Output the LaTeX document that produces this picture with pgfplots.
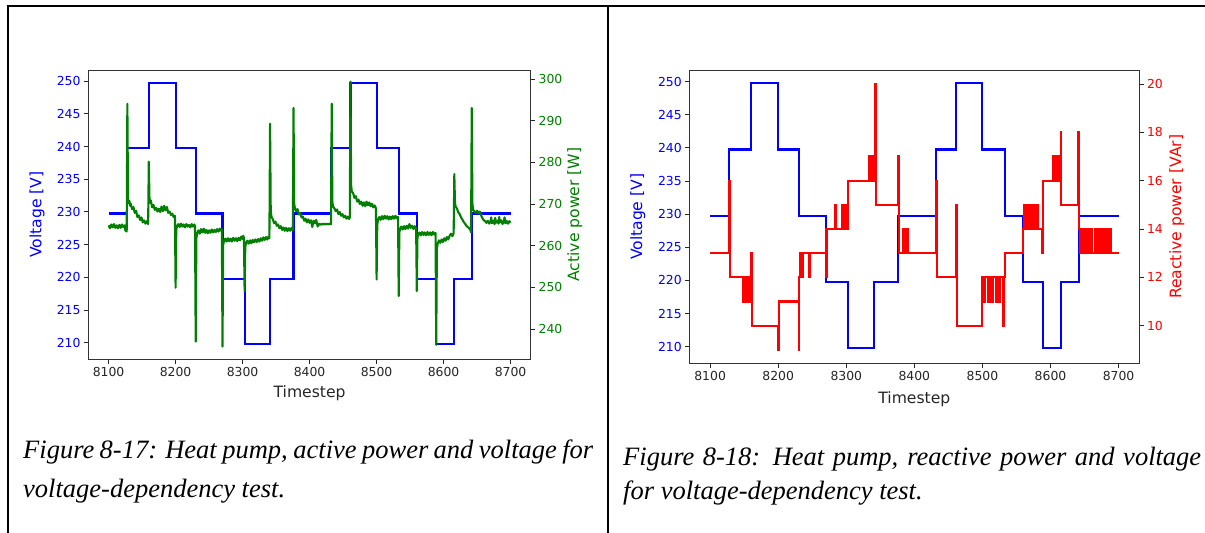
\documentclass[border=0pt]{standalone}
\usepackage{pgfplots}
\pgfplotsset{compat=1.18}
\usepackage{fontspec}
\setmainfont{Liberation Serif}
\newfontfamily\dejavu{DejaVu Sans}
\definecolor{mplblue}{rgb}{0,0,1}
\definecolor{mplgreen}{rgb}{0,0.5,0}
\definecolor{mplred}{rgb}{1,0,0}
\newcommand\tickfont{\dejavu\fontsize{12.4bp}{14bp}\selectfont}
\newcommand\labfont{\dejavu\fontsize{15.6bp}{18bp}\selectfont}
\newcommand\capfont{\fontsize{26.5bp}{30bp}\selectfont\itshape}
\pgfplotsset{
  mpl/.style={
    scale only axis,
    xmin=8070, xmax=8730,
    tick align=outside,
    major tick length=4.5bp,
    tick style={black!85, line width=0.9bp},
    axis line style={black!80, line width=1bp},
    tick label style={font=\tickfont},
    /pgf/number format/assume math mode=true,
    /pgf/number format/set thousands separator={},
    scaled ticks=false,
    label style={font=\labfont},
  }
}
\begin{document}
\begin{tikzpicture}
\useasboundingbox (0bp,0bp) rectangle (1205bp,-533bp);
\fill[white] (0bp,0bp) rectangle (1205bp,-533bp);
\draw[line width=2bp] (6.7bp,-6.3bp) -- (1205bp,-6.3bp);
\draw[line width=2bp] (7.7bp,-5.3bp) -- (7.7bp,-533bp);
\draw[line width=2bp] (608bp,-5.3bp) -- (608bp,-533bp);

% ---------------- left panel ----------------
\begin{axis}[mpl, at={(88.5bp,-359bp)}, anchor=south west,
  width=442.2bp, height=289bp,
  ymin=207.5, ymax=251.7,
  xtick={8100,8200,...,8700}, ytick={210,215,...,250},
  tick pos=left,
  xticklabel style={text=black!85},
  yticklabel style={text=mplblue},
  xlabel={Timestep}, ylabel={Voltage [V]},
  xlabel style={at={(axis description cs:0.5,-0.1194)}, anchor=center, text=black!85},
  ylabel style={at={(axis description cs:-0.1165,0.5)}, anchor=center, text=mplblue},
]
\addplot[const plot, mplblue, line width=2.1bp] coordinates {
(8100,229.75)(8128,239.75)(8160,249.75)(8200,239.75)(8230,229.75)(8270,219.75)(8303,209.75)(8341,219.75)(8376,229.75)(8432,239.75)(8461,249.75)(8500,239.75)(8533,229.75)(8560,219.75)(8589,209.75)(8616,219.75)(8642,229.75)(8700,229.75)};
\end{axis}
\begin{axis}[mpl, at={(88.5bp,-359bp)}, anchor=south west,
  width=442.2bp, height=289bp,
  ymin=232.8, ymax=302.2,
  axis x line=none, axis y line*=right,
  ytick={240,250,...,300},
  yticklabel style={text=mplgreen},
  ylabel={Active power [W]},
  ylabel style={at={(axis description cs:1.0995,0.5)}, anchor=center, text=mplgreen},
]
\addplot[mplgreen, line width=2.1bp, line join=round] coordinates {
(8100,264.9)(8102,264.2)(8104,265.1)(8106,264.4)(8108,265.2)(8110,264.3)(8112,264.9)(8114,264.2)(8116,265.0)(8118,264.3)(8120,265.1)(8122,264.5)(8124,264.9)(8125,263.6)(8126,264.6)(8127,263.4)
(8128,294.1)(8129,271.0)(8130,270.2)(8131,270.8)(8132,269.6)(8133,270.1)(8135,268.8)(8137,269.3)(8139,267.9)(8141,268.4)(8143,266.9)(8145,267.3)(8147,266.2)(8149,266.8)(8151,265.6)(8153,266.1)(8155,265.3)(8157,265.9)(8159,265.2)
(8160,280.2)(8161,271.5)(8162,270.3)(8163,270.9)(8165,269.2)(8167,269.8)(8169,268.6)(8171,269.1)(8173,268.2)(8175,268.9)(8177,268.1)(8179,269.4)(8181,268.3)(8183,269.6)(8185,268.5)(8187,269.3)(8189,267.9)(8191,268.2)(8193,267.4)(8195,267.7)(8197,266.9)(8199,267.2)
(8200,249.9)(8201,263.8)(8202,264.6)(8204,265.2)(8206,264.5)(8208,265.3)(8210,264.6)(8212,265.1)(8214,264.4)(8216,265.2)(8218,264.6)(8220,265.0)(8222,264.4)(8224,265.2)(8226,264.6)(8228,265.1)(8229,264.7)
(8230,237.0)(8231,261.8)(8232,262.9)(8234,263.7)(8236,262.9)(8238,264.0)(8240,263.2)(8242,264.1)(8244,263.1)(8246,263.8)(8248,263.0)(8250,263.7)(8252,263.1)(8254,263.9)(8256,263.2)(8258,263.8)(8260,263.3)(8262,264.0)(8264,263.4)(8266,264.1)(8268,263.6)(8269,264.0)
(8270,235.8)(8271,260.2)(8272,261.0)(8274,261.7)(8276,261.0)(8278,261.8)(8280,261.1)(8282,261.7)(8284,261.0)(8286,261.9)(8288,261.2)(8290,261.8)(8292,261.1)(8294,261.9)(8296,261.3)(8298,262.2)(8300,261.6)(8301,262.4)(8302,261.8)
(8303,249.1)(8304,259.6)(8305,260.6)(8307,261.2)(8309,260.5)(8311,261.3)(8313,260.6)(8315,261.4)(8317,260.8)(8319,261.5)(8321,260.9)(8323,261.6)(8325,261.0)(8327,261.8)(8329,261.2)(8331,262.0)(8333,261.4)(8335,262.1)(8337,261.5)(8339,262.2)(8340,261.8)
(8341,289.3)(8342,268.5)(8343,267.0)(8345,266.4)(8347,265.4)(8349,265.8)(8351,264.8)(8353,265.1)(8355,264.2)(8357,264.7)(8359,263.8)(8361,264.4)(8363,263.6)(8365,264.3)(8367,263.5)(8369,264.2)(8371,263.6)(8373,264.3)(8375,263.7)
(8376,293.1)(8377,270.2)(8378,269.0)(8380,268.3)(8382,268.8)(8384,267.5)(8386,267.9)(8388,266.8)(8390,267.0)(8392,266.0)(8394,266.5)(8396,265.6)(8398,266.3)(8400,265.5)(8402,266.1)(8404,264.5)(8406,266.0)(8408,265.4)(8410,266.2)(8412,264.6)(8414,265.3)(8416,265.0)(8418,265.3)(8420,265.1)(8422,265.3)(8424,265.1)(8426,265.3)(8428,265.1)(8430,265.3)(8432,265.2)
(8433,294.1)(8434,270.5)(8435,269.4)(8437,269.0)(8439,268.3)(8441,268.7)(8443,267.6)(8445,268.1)(8447,267.2)(8449,267.6)(8451,266.8)(8453,267.2)(8455,266.5)(8457,267.0)(8459,266.4)(8460,266.8)
(8461,299.4)(8462,274.5)(8463,273.0)(8465,272.6)(8467,271.5)(8469,271.9)(8471,270.6)(8473,271.1)(8475,270.0)(8477,270.6)(8479,269.6)(8481,270.4)(8483,269.5)(8485,270.6)(8487,269.7)(8489,270.4)(8491,269.5)(8493,270.1)(8495,269.2)(8497,269.7)(8499,269.0)
(8500,251.9)(8501,265.0)(8502,266.2)(8504,266.9)(8506,266.2)(8508,267.1)(8510,266.4)(8512,267.2)(8514,266.5)(8516,267.1)(8518,266.3)(8520,267.0)(8522,266.4)(8524,267.1)(8526,266.5)(8528,267.2)(8530,266.6)(8532,266.9)
(8533,247.9)(8534,263.2)(8535,264.0)(8537,264.6)(8539,263.9)(8541,264.7)(8543,264.0)(8545,264.8)(8547,264.1)(8549,265.2)(8551,264.3)(8553,264.8)(8555,264.0)(8557,264.7)(8559,264.2)
(8560,249.1)(8561,262.0)(8562,262.6)(8564,263.2)(8566,262.5)(8568,263.3)(8570,262.6)(8572,263.2)(8574,262.5)(8576,263.3)(8578,262.6)(8580,263.2)(8582,262.5)(8584,263.3)(8586,262.7)(8588,263.1)
(8589,236.2)(8590,259.2)(8591,260.4)(8593,261.3)(8595,260.7)(8597,261.5)(8599,260.9)(8601,261.8)(8603,261.2)(8605,262.1)(8607,261.5)(8609,262.4)(8611,262.9)(8613,262.3)(8615,263.0)
(8616,277.2)(8617,270.3)(8618,269.4)(8620,268.9)(8622,268.0)(8624,267.6)(8626,266.8)(8628,266.3)(8630,265.7)(8632,265.3)(8634,264.8)(8636,264.5)(8638,264.2)(8640,263.8)(8641,263.2)
(8642,293.1)(8643,270.2)(8644,268.6)(8646,268.3)(8648,267.9)(8650,268.4)(8652,267.8)(8654,268.2)(8656,267.3)(8658,266.6)(8660,266.1)(8662,265.9)(8664,265.5)(8666,266.0)(8668,265.3)(8670,265.9)(8671,266.8)(8672,265.4)(8674,266.0)(8676,265.2)(8677,266.7)(8678,265.5)(8680,266.0)(8682,265.3)(8683,266.9)(8684,265.6)(8686,266.1)(8688,265.2)(8690,266.0)(8691,266.8)(8692,265.4)(8694,266.0)(8696,265.3)(8698,265.9)(8700,265.5)};
\end{axis}

% ---------------- right panel ----------------
\begin{axis}[mpl, at={(689.7bp,-363.3bp)}, anchor=south west,
  width=449.3bp, height=293bp,
  ymin=207.5, ymax=251.7,
  xtick={8100,8200,...,8700}, ytick={210,215,...,250},
  tick pos=left,
  xticklabel style={text=black!85},
  yticklabel style={text=mplblue},
  xlabel={Timestep}, ylabel={Voltage [V]},
  xlabel style={at={(axis description cs:0.5,-0.1225)}, anchor=center, text=black!85},
  ylabel style={at={(axis description cs:-0.1157,0.5)}, anchor=center, text=mplblue},
]
\addplot[const plot, mplblue, line width=2.1bp] coordinates {
(8100,229.75)(8128,239.75)(8160,249.75)(8200,239.75)(8230,229.75)(8270,219.75)(8303,209.75)(8341,219.75)(8376,229.75)(8432,239.75)(8461,249.75)(8500,239.75)(8533,229.75)(8560,219.75)(8589,209.75)(8616,219.75)(8642,229.75)(8700,229.75)};
\end{axis}
\begin{axis}[mpl, at={(689.7bp,-363.3bp)}, anchor=south west,
  width=449.3bp, height=293bp,
  ymin=8.44, ymax=20.57,
  axis x line=none, axis y line*=right,
  ytick={10,12,...,20},
  yticklabel style={text=mplred},
  ylabel={Reactive power [VAr]},
  ylabel style={at={(axis description cs:1.0839,0.5)}, anchor=center, text=mplred},
]
\addplot[const plot, mplred, line width=2.1bp] coordinates {
(8100,13)(8128,16)(8129,12)
(8148,11)(8149,12)(8150,11)(8151,12)(8152,11)(8153,12)(8154,11)(8155,12)(8156,11)(8157,12)(8158,11)(8159,12)
(8160,13)(8161,10)(8200,9)(8201,11)(8230,9)
(8231,12)(8232,13)(8233,12)(8234,13)(8235,12)(8236,13)(8246,12)(8247,13)
(8270,12)(8271,14)(8284,15)(8285,14)(8294,15)(8295,14)(8297,15)(8298,14)(8301,15)(8302,14)
(8303,16)(8334,17)(8335,16)(8336,17)(8337,16)(8338,17)(8339,16)(8340,17)
(8342,20)(8343,15)(8376,17)(8377,13)
(8384,14)(8385,13)(8386,14)(8387,13)(8388,14)(8389,13)(8390,14)(8391,13)
(8432,16)(8433,12)(8461,15)(8462,10)
(8499,12)(8500,11)(8501,12)(8502,11)(8503,12)(8508,11)(8509,12)(8511,11)(8512,12)(8513,11)(8514,12)(8515,11)(8516,12)(8520,11)(8521,12)(8522,11)(8523,12)(8524,11)(8525,12)
(8530,10)(8531,12)(8533,13)
(8560,14)(8561,15)(8562,14)(8563,15)(8564,14)(8565,15)(8566,14)(8567,15)(8568,14)(8569,15)(8570,14)(8571,15)(8572,14)(8573,15)(8574,14)(8575,15)(8576,14)(8577,15)(8578,14)(8579,15)(8580,14)(8581,15)(8582,14)
(8588,13)(8589,16)
(8603,17)(8604,16)(8605,17)(8606,16)(8607,17)(8608,16)(8610,17)(8611,16)(8613,17)(8614,16)
(8615,18)(8616,15)(8641,18)
(8642,14)(8643,13)(8644,14)(8645,13)(8646,14)(8647,13)(8648,14)(8649,13)(8650,14)(8651,13)(8652,14)(8653,13)(8654,14)(8655,13)(8656,14)(8657,13)(8658,14)(8659,13)(8660,14)(8661,13)
(8665,14)(8666,13)(8667,14)(8668,13)(8669,14)(8670,13)
(8672,14)(8673,13)(8674,14)(8675,13)(8676,14)(8677,13)(8678,14)(8679,13)(8680,14)(8681,13)(8682,14)(8683,13)(8684,14)(8685,13)(8686,14)(8687,13)(8688,14)(8689,13)
(8700,13)};
\end{axis}

% ---------------- captions ----------------
\node[anchor=base west, inner sep=0pt] at (23bp,-458bp)
  {\capfont\hbox to 570bp{Figure 8-17: Heat pump, active power and voltage for}};
\node[anchor=base west, inner sep=0pt] at (23bp,-497bp)
  {\capfont voltage-dependency test.};
\node[anchor=base west, inner sep=0pt] at (623bp,-465bp)
  {\capfont\hbox to 578bp{Figure 8-18: Heat pump, reactive power and voltage}};
\node[anchor=base west, inner sep=0pt] at (623bp,-499bp)
  {\capfont for voltage-dependency test.};
\end{tikzpicture}
\end{document}
